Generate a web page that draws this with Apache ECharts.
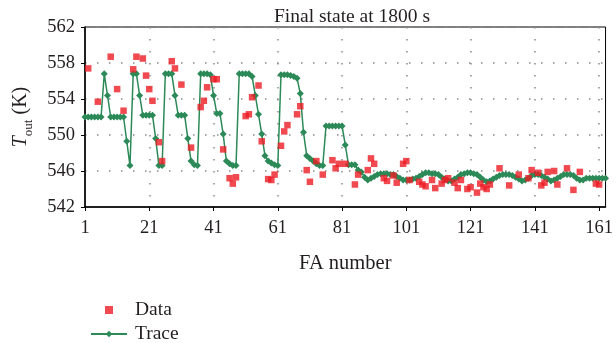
<!DOCTYPE html>
<html><head><meta charset="utf-8">
<script src="https://cdn.jsdelivr.net/npm/echarts@6/dist/echarts.min.js"></script>
<style>html,body{margin:0;padding:0;background:#fff}#c{width:616px;height:343px}</style>
</head><body><div id="c"></div>
<script>
const titleText = 'Final state at 1800 s';
const xName = 'FA number';
const faStart = 1, faEnd = 163;
const xTickLabels = ['1','21','41','61','81','101','121','141','161'];
const yMin = 542, yMax = 562, yStep = 4;

// Trace temperature per FA (1..163)
const traceT = [
  552.0, 552.0, 552.0, 552.0, 552.0, 552.0, 556.8, 554.4, 552.0, 552.0,
  552.0, 552.0, 552.0, 549.3, 546.6, 556.8, 556.8, 554.4, 552.2, 552.2,
  552.2, 552.2, 549.6, 546.6, 546.6, 556.8, 556.8, 556.8, 554.4, 552.2,
  552.2, 552.2, 549.6, 547.1, 546.7, 546.6, 556.8, 556.8, 556.8, 556.7,
  554.4, 552.4, 552.4, 550.1, 547.1, 546.8, 546.6, 546.6, 556.8, 556.8,
  556.8, 556.8, 556.5, 554.4, 552.3, 550.1, 547.7, 547.1, 546.9, 546.7,
  546.6, 556.7, 556.7, 556.7, 556.6, 556.5, 556.3, 554.6, 550.3, 547.7,
  547.4, 547.1, 546.8, 546.6, 546.6, 551.0, 551.0, 551.0, 551.0, 551.0,
  551.0, 548.9, 546.7, 546.7, 546.7, 546.1, 545.9, 545.3, 545.0, 545.2,
  545.4, 545.6, 545.7, 545.7, 545.7, 545.6, 545.6, 545.4, 545.2, 545.0,
  545.0, 545.0, 545.1, 545.2, 545.4, 545.6, 545.8, 545.8, 545.7, 545.7,
  545.6, 545.3, 545.1, 544.9, 544.9, 545.1, 545.3, 545.6, 545.7, 545.8,
  545.8, 545.7, 545.6, 545.3, 545.0, 544.8, 544.9, 545.1, 545.3, 545.5,
  545.6, 545.6, 545.6, 545.5, 545.3, 545.1, 544.9, 545.0, 545.2, 545.5,
  545.6, 545.6, 545.5, 545.3, 545.1, 544.9, 545.0, 545.2, 545.4, 545.6,
  545.6, 545.6, 545.5, 545.2, 545.0, 545.0, 545.2, 545.2, 545.2, 545.2,
  545.2, 545.2, 545.2
];

// Measured data points
const dataFA = [2, 5, 9, 11, 13, 16, 17, 19, 20, 21, 22, 24, 25, 28, 29, 31, 34, 37, 38, 39,
  41, 42, 44, 46, 47, 48, 51, 52, 53, 55, 56, 58, 59, 60, 62, 63, 64, 67, 68, 70,
  71, 73, 75, 78, 79, 80, 82, 85, 86, 89, 90, 91, 94, 95, 97, 98, 100, 101, 102, 105,
  106, 107, 109, 110, 112, 113, 114, 116, 117, 118, 120, 121, 123, 124, 125, 126, 127, 130, 133, 136,
  139, 140, 142, 143, 144, 145, 147, 148, 151, 153, 155, 160, 161];
const dataT = [557.4, 553.7, 558.7, 555.1, 552.7, 557.3, 558.7, 558.5, 556.6, 555.1, 553.8, 549.2, 547.1, 558.2, 557.4, 555.6, 548.6, 553.1, 553.8, 555.3,
  556.2, 556.2, 548.4, 545.2, 544.6, 545.3, 552.1, 552.3, 554.2, 555.5, 549.3, 545.1, 545.0, 545.6, 548.8, 550.4, 551.1, 552.3, 553.2, 546.1,
  544.8, 547.1, 545.6, 547.2, 546.3, 546.8, 546.8, 544.5, 545.6, 546.1, 547.4, 546.8, 545.2, 544.9, 545.5, 544.7, 546.8, 547.1, 545.0, 544.8,
  544.5, 544.3, 545.0, 544.1, 544.6, 545.0, 545.2, 544.7, 544.1, 545.0, 544.0, 544.2, 543.6, 544.6, 544.2, 544.0, 544.5, 546.3, 544.4, 545.6,
  545.2, 546.1, 545.8, 544.4, 544.7, 545.9, 546.0, 544.5, 546.3, 543.9, 545.9, 544.6, 544.5];

const categories = [];
for (let i = faStart; i <= faEnd; i++) categories.push(String(i));
const showTick = (idx, val) => xTickLabels.indexOf(String(val)) >= 0;

const FONT = 'Liberation Serif';
const TXT = '#231f20';
const RED = '#ed1c24';
const GREEN = '#2b8a57';

const chart = echarts.init(document.getElementById('c'), null, {renderer: 'canvas'});
chart.setOption({
  animation: false,
  backgroundColor: '#fff',
  title: {
    text: titleText, left: 347, top: 2, textAlign: 'center',
    textStyle: {fontFamily: FONT, fontSize: 19.5, fontWeight: 'normal', color: TXT}
  },
  legend: {
    orient: 'vertical', left: 85, top: 295, height: 48, itemWidth: 36, itemHeight: 8, itemGap: 4,
    textStyle: {fontFamily: FONT, fontSize: 19.5, lineHeight: 20, color: TXT, padding: [0, 0, 0, 3]},
    data: [{name: 'Data', icon: 'path://M0,0h10v10h-10z'}, {name: 'Trace'}]
  },
  grid: {left: 85, right: 7, top: 27, bottom: 136, show: true, borderColor: '#000', borderWidth: 1},
  xAxis: {
    type: 'category', data: categories, boundaryGap: false,
    name: xName, nameLocation: 'middle', nameGap: 46,
    nameTextStyle: {fontFamily: FONT, fontSize: 20.5, color: TXT},
    axisLine: {lineStyle: {color: '#000', width: 1.5}},
    axisTick: {show: true, interval: showTick, length: 4, lineStyle: {color: '#000'}},
    axisLabel: {interval: showTick, margin: 12, fontFamily: FONT, fontSize: 18.5, color: TXT},
    splitLine: {show: true, interval: showTick, lineStyle: {color: '#8a8a8a', width: 1.5, type: [1.5, 10.5]}}
  },
  yAxis: {
    type: 'value', min: yMin, max: yMax, interval: yStep,
    name: '{i|T}{s|out} (K)', nameLocation: 'middle', nameGap: 54, nameRotate: 90,
    nameTextStyle: {fontFamily: FONT, fontSize: 20, color: TXT,
      rich: {
        i: {fontFamily: FONT, fontSize: 20, fontStyle: 'italic', color: TXT},
        s: {fontFamily: FONT, fontSize: 13, color: TXT, verticalAlign: 'bottom', padding: [0, 0, -4, 0]}
      }},
    axisLine: {show: true, lineStyle: {color: '#000', width: 1.5}},
    axisTick: {show: true, length: 4, lineStyle: {color: '#000'}},
    axisLabel: {margin: 10, fontFamily: FONT, fontSize: 18.5, color: TXT},
    splitLine: {show: true, lineStyle: {color: '#8a8a8a', width: 1.5, type: [1.5, 10.5]}}
  },
  series: [
    {
      name: 'Data', type: 'scatter', symbol: 'rect', symbolSize: 6.5, z: 3,
      itemStyle: {color: RED},
      data: dataFA.map((fa, i) => [String(fa), dataT[i]])
    },
    {
      name: 'Trace', type: 'line', symbol: 'diamond', symbolSize: 7, showAllSymbol: true, z: 2,
      lineStyle: {color: GREEN, width: 1.5}, itemStyle: {color: GREEN},
      data: traceT
    }
  ]
});
</script>
</body></html>
